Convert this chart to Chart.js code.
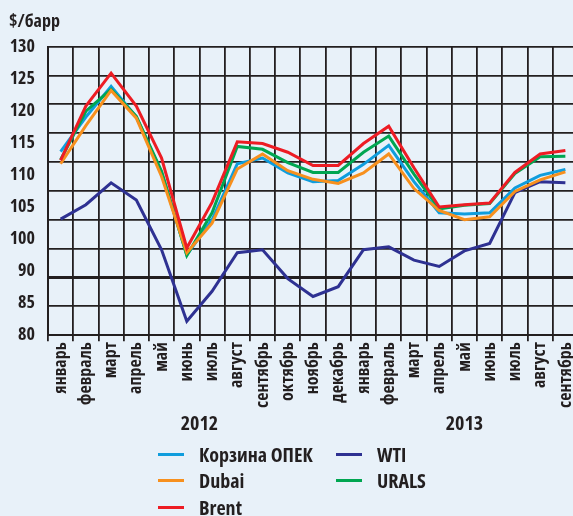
<!DOCTYPE html>
<html>
<head>
<meta charset="utf-8">
<script src="https://cdn.jsdelivr.net/npm/chart.js@4.4.1/dist/chart.umd.min.js"></script>
<style>
  html, body { margin: 0; padding: 0; background: #e8f1f9; overflow: hidden; }
  #wrap { position: relative; width: 573px; height: 516px; overflow: hidden; }
  #chart { position: absolute; left: 0; top: 0; }
  #legend {
    position: absolute; left: 158px; top: 441px;
    display: grid; grid-auto-flow: column;
    grid-template-rows: repeat(3, 26.5px);
    grid-template-columns: 178px 130px;
    font-family: "Open Sans", sans-serif; font-weight: bold; font-size: 20px;
    font-stretch: condensed; color: #231f20;
  }
  .item { display: flex; align-items: center; white-space: nowrap; }
  .swatch { width: 26px; height: 3px; margin-right: 15px; }
</style>
</head>
<body>
<div id="wrap">
  <canvas id="chart" width="578" height="516" style="width:578px;height:516px"></canvas>
  <div id="legend"></div>
</div>
<script>
// months Jan 2012 .. Sep 2013
const months = ["январь", "февраль", "март", "апрель", "май", "июнь", "июль", "август", "сентябрь",
  "октябрь", "ноябрь", "декабрь", "январь", "февраль", "март", "апрель", "май", "июнь", "июль",
  "август", "сентябрь"];
const years = ["2012", "2013"];
const monthsPerYear = [12, 9];
const yTickLabels = ["130", "125", "120", "115", "110", "105", "100", "90", "85", "80"];

// $/барр
const opec  = [111.8, 117.8, 123.1, 117.8, 108.2, 93.9, 100.0, 109.7, 110.7, 108.1, 106.6, 106.8,
               109.6, 112.9, 106.6, 101.2, 101.0, 101.2, 105.5, 107.7, 108.7];
const dubai = [109.7, 116.3, 122.4, 117.6, 107.5, 94.3, 99.4, 108.8, 111.4, 108.5, 107.0, 106.3,
               108.1, 111.4, 105.4, 101.6, 100.0, 100.5, 104.9, 106.9, 108.3];
const brent = [110.3, 119.7, 125.4, 119.7, 110.7, 95.1, 103.0, 113.5, 113.2, 111.7, 109.4, 109.4,
               113.2, 116.2, 109.0, 102.2, 102.6, 102.9, 108.2, 111.4, 112.0];
const wti   = [100.1, 102.6, 106.4, 103.4, 94.8, 82.4, 87.6, 94.3, 94.8, 89.8, 86.7, 88.4,
               94.8, 95.3, 93.0, 91.9, 94.6, 95.9, 104.7, 106.6, 106.4];
const urals = [110.4, 118.8, 122.6, 117.9, 108.4, 93.8, 101.2, 112.7, 112.2, 109.9, 108.2, 108.2,
               111.7, 114.5, 107.9, 101.9, 102.5, 102.8, 108.0, 110.9, 111.0];

const INK = "#231f20";
// condensed bold grotesque; Open Sans has a width axis
const FONT = { family: "'Open Sans', sans-serif", size: 18, weight: "bold condensed" };
const WIDE_FONT = { family: "'Open Sans', sans-serif", size: 18, weight: "bold semi-condensed" };
const YEAR_FONT = { family: "'Open Sans', sans-serif", size: 20, weight: "bold condensed", lineHeight: 1 };

// year label sits in the middle of its months
let start = 0;
const yearCenters = monthsPerYear.map(n => {
  const c = start + (n - 1) / 2;
  start += n;
  return c;
});

// plot runs off the right edge, like the original
const noSidePadding = s => { s.paddingLeft = 0; s.paddingRight = 0; };

const chart = new Chart(document.getElementById("chart"), {
  type: "line",
  data: {
    labels: months,
    datasets: [
      { label: "Корзина ОПЕК", data: opec, borderColor: "#0f9ddd", order: 3 },
      { label: "Dubai", data: dubai, borderColor: "#f7901e", order: 1 },
      { label: "Brent", data: brent, borderColor: "#ed1c24", order: 0 },
      { label: "WTI", data: wti, borderColor: "#2e3192", order: 4 },
      { label: "URALS", data: urals, borderColor: "#00a651", order: 2 }
    ]
  },
  options: {
    responsive: false,
    animation: false,
    layout: { padding: { left: 9, right: 0, top: 0, bottom: 77 } },
    elements: {
      point: { radius: 0 },
      line: { tension: 0, borderWidth: 3, fill: false }
    },
    plugins: {
      legend: { display: false },
      tooltip: { enabled: false },
      title: {
        display: true, text: "$/барр", align: "start", color: INK,
        font: WIDE_FONT, padding: { top: 11, bottom: 14 }
      }
    },
    scales: {
      x: {
        type: "category",
        offset: true,
        weight: 0,
        afterFit: noSidePadding,
        grid: { offset: true, color: INK, lineWidth: 1.8, drawTicks: true, tickLength: 6 },
        border: { display: true, color: INK, width: 2 },
        ticks: { minRotation: 90, maxRotation: 90, autoSkip: false, padding: 1, color: INK, font: WIDE_FONT }
      },
      year: {
        type: "linear",
        position: "bottom",
        weight: 1,
        min: -0.5,
        max: months.length - 0.5,
        afterFit: noSidePadding,
        grid: { display: false, drawTicks: false },
        border: { display: false },
        afterBuildTicks: s => { s.ticks = yearCenters.map(v => ({ value: v })); },
        ticks: { autoSkip: false, maxRotation: 0, padding: 5, color: INK, font: YEAR_FONT,
                 callback: (v, i) => years[i] }
      },
      y: {
        type: "linear",
        weight: 0,
        min: 80,
        max: 130,
        ticks: { stepSize: 5, display: false },
        grid: { color: INK, lineWidth: c => (c.tick && c.tick.value === 90 ? 3 : 1.8), drawTicks: false },
        border: { color: INK, width: 2 }
      },
      yLab: {
        type: "category",
        position: "left",
        weight: 1,
        labels: yTickLabels,
        offset: false,
        afterFit: s => { s.width = 39; },
        grid: { display: false, drawTicks: false },
        border: { display: false },
        ticks: { autoSkip: false, padding: 13, color: INK, font: FONT }
      }
    }
  }
});

// two-column legend under the chart
const legend = document.getElementById("legend");
chart.data.datasets.forEach(ds => {
  const item = document.createElement("div");
  item.className = "item";
  item.innerHTML = '<span class="swatch" style="background:' + ds.borderColor + '"></span>' + ds.label;
  legend.appendChild(item);
});
</script>
</body>
</html>
